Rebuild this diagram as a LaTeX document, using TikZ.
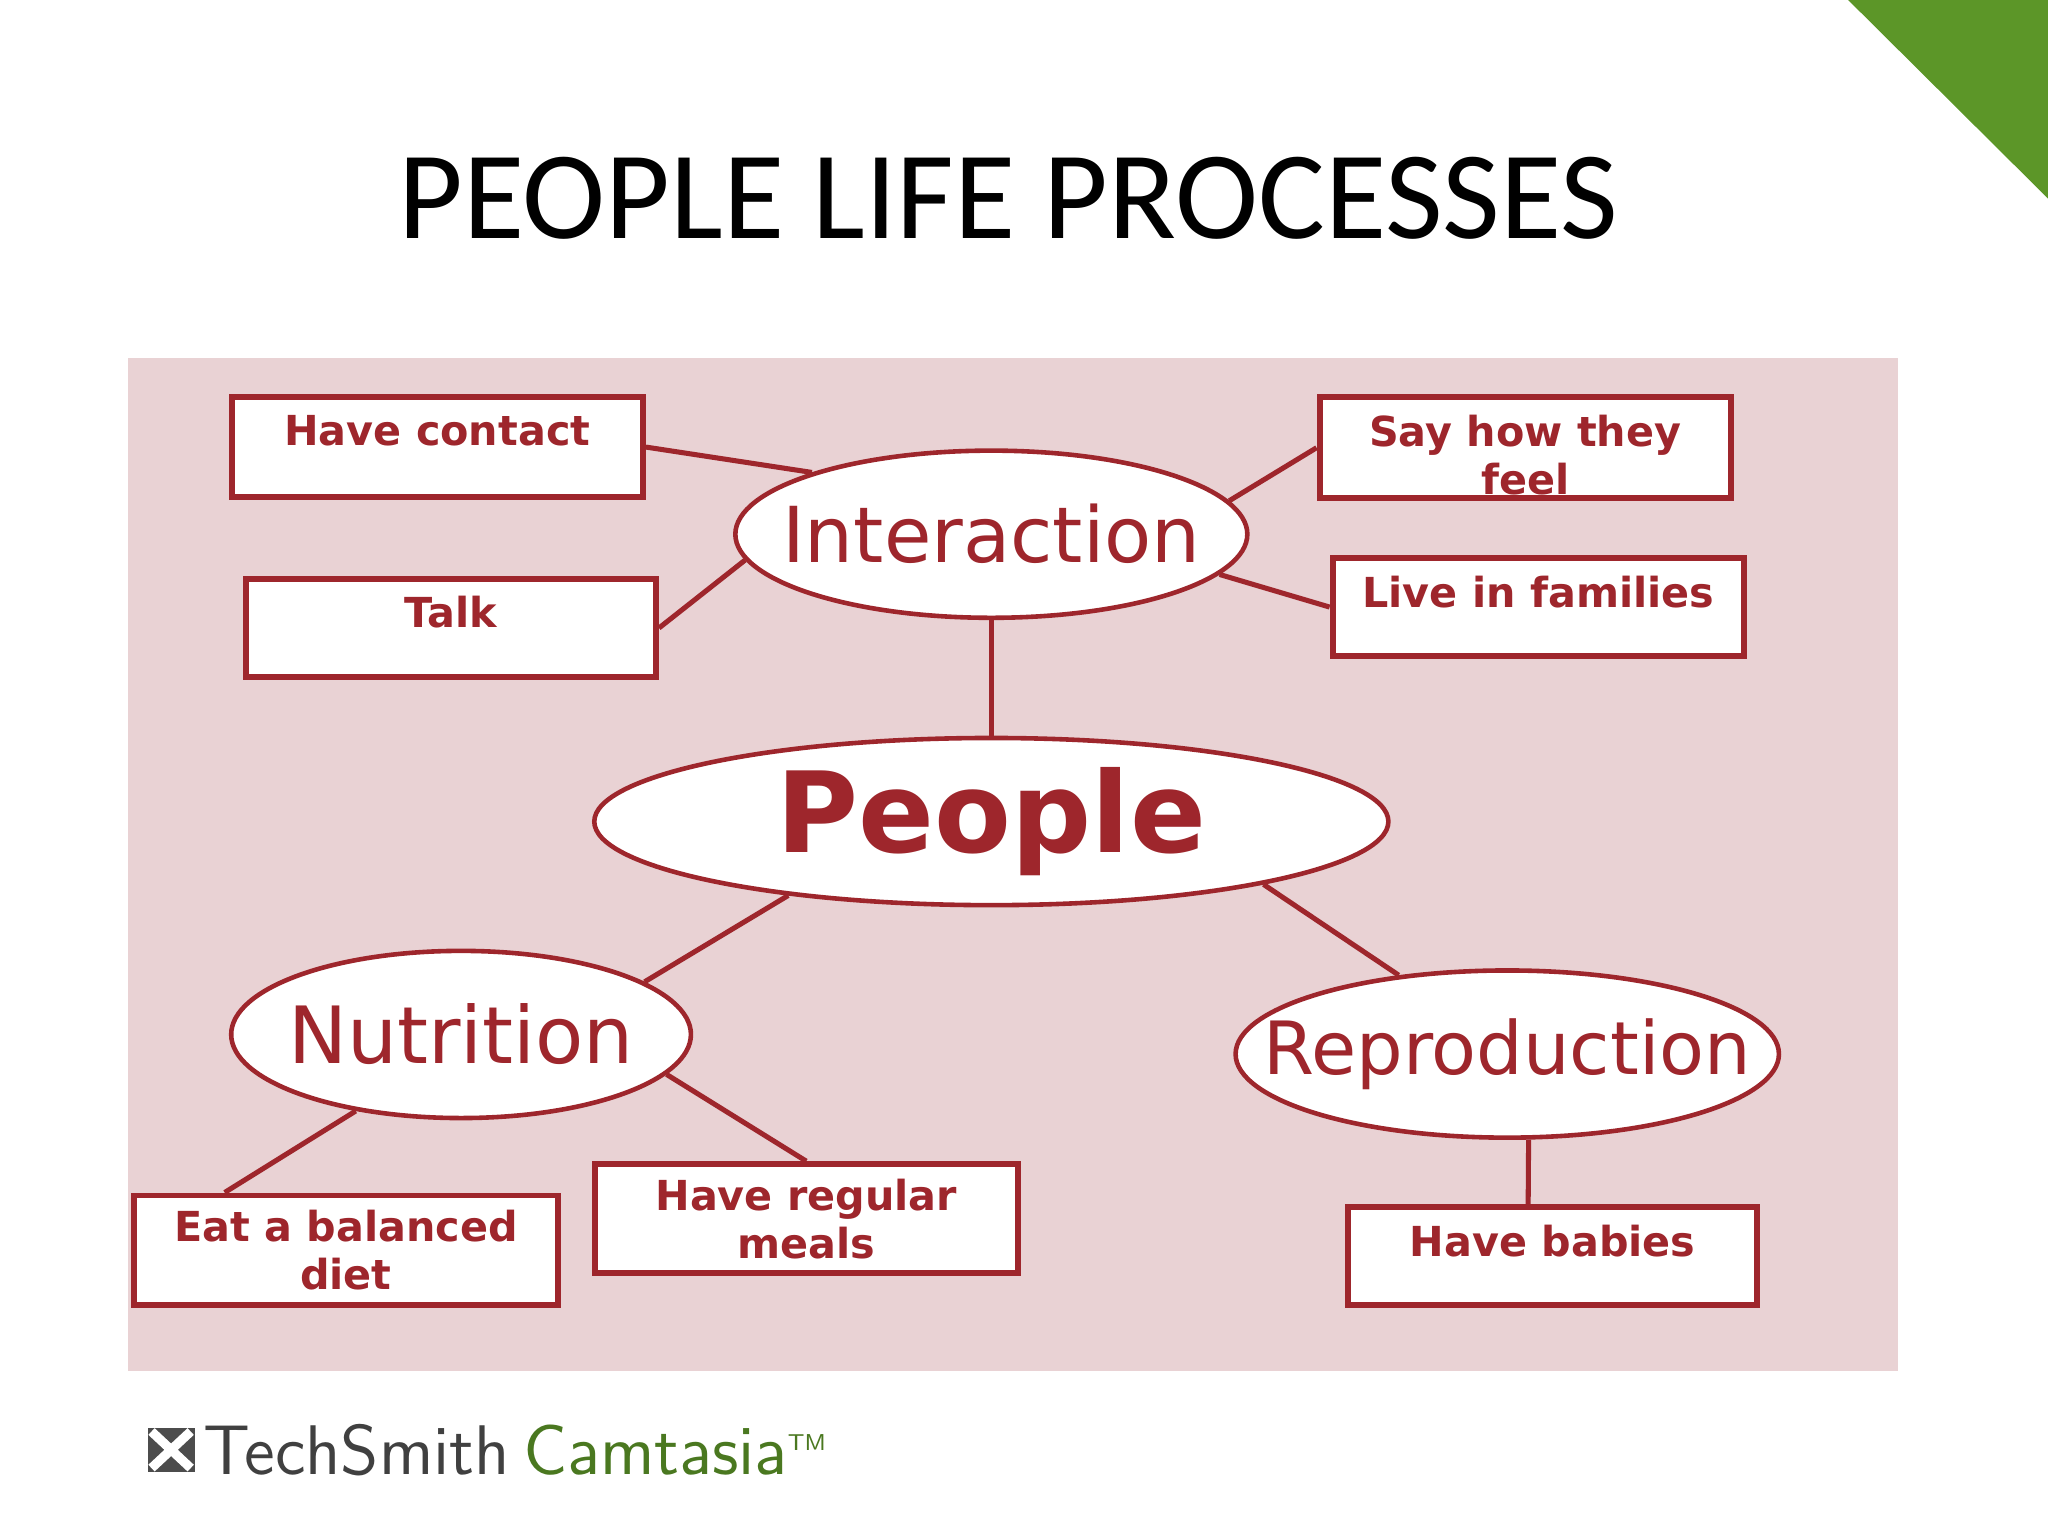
\documentclass[tikz,border=0pt]{standalone}
\usepackage{fontspec}
\setmainfont{Carlito}
\newfontfamily\comic{DejaVu Sans}
\usetikzlibrary{shapes.geometric}
\definecolor{pinkbg}{RGB}{233,210,212}
\definecolor{dred}{RGB}{158,38,44}
\definecolor{gr}{RGB}{92,150,40}
\tikzset{
 bx/.style={draw=dred,line width=1.3pt,fill=white,minimum width=#1,anchor=north west},
 bxt/.style={anchor=north,font=\comic\bfseries\fontsize{9}{10.5}\selectfont,text=dred,align=center,inner sep=0pt},
 el/.style={ellipse,draw=dred,line width=1pt,fill=white,inner sep=0pt},
 elt/.style={text=dred,inner sep=0pt},
 ln/.style={draw=dred,line width=1.1pt}
}
\begin{document}
\begin{tikzpicture}[x=0.1mm,y=-0.1mm]
\useasboundingbox (0,0) rectangle (1568,1176);
\fill[white] (0,0) rectangle (1568,1176);
\fill[gr] (1415,0) -- (1568,0) -- (1568,152) -- cycle;
\node[font=\fontsize{27.3}{32}\selectfont] (title) at (772,152) {PEOPLE LIFE PROCESSES};
\fill[pinkbg] (98,274) rectangle (1453,1050);
% ellipses
\node[el,minimum width=39.2mm,minimum height=12.8mm] (int) at (759,409) {};
\node[elt,font=\comic\fontsize{16.8}{18}\selectfont] (intt) at (int.center) {Interaction};
\node[el,minimum width=60.8mm,minimum height=12.8mm] (ppl) at (759,629) {};
\node[elt,font=\comic\bfseries\fontsize{24.4}{26}\selectfont] (pplt) at (ppl.center) {People};
\node[el,minimum width=35.2mm,minimum height=12.8mm] (nut) at (353,792) {};
\node[elt,font=\comic\fontsize{17.2}{18}\selectfont] (nutt) at (nut.center) {Nutrition};
\node[el,minimum width=41.6mm,minimum height=12.8mm] (rep) at (1154,807) {};
\node[elt,font=\comic\fontsize{16}{18}\selectfont] (rept) at (rep.center) {Reproduction};
% boxes
\node[bx=31.5mm,minimum height=7.6mm] (hc) at (175,302) {};
\node[bxt] at ([yshift=-1.5mm]hc.north) {Have contact};
\node[bx=31.4mm,minimum height=7.5mm] (tk) at (186,441) {};
\node[bxt] at ([yshift=-1.5mm]tk.north) {Talk};
\node[bx=31.5mm,minimum height=7.7mm] (sh) at (1008,302) {};
\node[bxt] at ([yshift=-1.5mm]sh.north) {Say how they\\feel};
\node[bx=31.5mm,minimum height=7.5mm] (lf) at (1018,425) {};
\node[bxt] at ([yshift=-1.5mm]lf.north) {Live in families};
\node[bx=32.5mm,minimum height=8.4mm] (eb) at (100,913) {};
\node[bxt] at ([yshift=-1.3mm]eb.north) {Eat a balanced\\diet};
\node[bx=32.4mm,minimum height=8.3mm] (rm) at (453,889) {};
\node[bxt] at ([yshift=-1.3mm]rm.north) {Have regular\\meals};
\node[bx=31.3mm,minimum height=7.5mm] (hb) at (1030,922) {};
\node[bxt] at ([yshift=-1.5mm]hb.north) {Have babies};
% connectors
\coordinate (eb1) at (172,913);
\coordinate (hb1) at (1170,922);
\draw[ln] (hc.east) -- (int.161.6);
\draw[ln] (tk.east) -- (int.186.9);
\draw[ln] (sh.west) -- (int.8.4);
\draw[ln] (lf.west) -- (int.-10.9);
\draw[ln] (int.south) -- (ppl.north);
\draw[ln] (ppl.-160.2) -- (nut.16.8);
\draw[ln] (ppl.-13.7) -- (rep.144.9);
\draw[ln] (nut.216.5) -- (eb1);
\draw[ln] (nut.-11.2) -- (rm.north);
\draw[ln] (rep.-76) -- (hb1);
% footer
\fill[black!70] (113,1093) rectangle (149,1127);
\draw[white,line width=2pt] (116,1096) -- (146,1124) (146,1096) -- (116,1124);
\node[anchor=west,font=\sffamily\fontsize{15.3}{18}\selectfont,text=black!75,inner sep=0pt] (ts) at (155,1110) {TechSmith};
\node[anchor=west,font=\sffamily\fontsize{15.3}{18}\selectfont,text=gr!80!black,inner sep=0pt] (cm) at (400,1110) {Camtasia\textsuperscript{\tiny TM}};
\end{tikzpicture}
\end{document}
